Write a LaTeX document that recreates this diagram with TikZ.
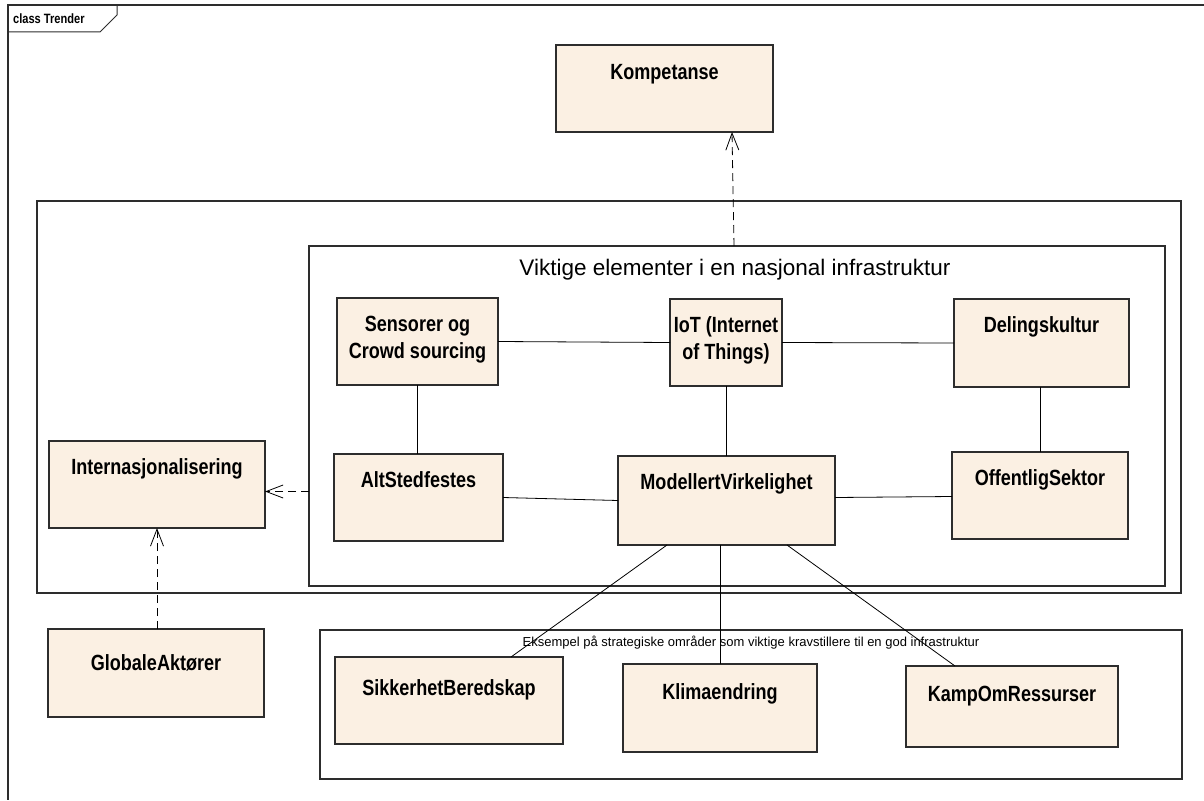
\documentclass[tikz,border=0pt]{standalone}
\usepackage{fontspec}
\setmainfont{Liberation Sans}
\newfontfamily\lblfont{Liberation Sans Bold}[FakeStretch=0.82]
\usetikzlibrary{arrows.meta,calc}
\definecolor{boxfill}{RGB}{251,240,227}
\definecolor{boxline}{RGB}{45,45,45}
\tikzset{
  cls/.style={draw=boxline, line width=1.1pt, fill=boxfill, anchor=north west, inner sep=0pt, outer sep=0pt},
  grp/.style={draw=boxline, line width=1.1pt, anchor=north west, inner sep=0pt, outer sep=0pt},
  lbl/.style={font=\lblfont\fontsize{22}{27}\selectfont, align=center, inner sep=0pt},
  conn/.style={draw=black, line width=0.8pt},
  dep/.style={draw=black, line width=0.8pt, dash pattern=on 8pt off 5pt, -{Straight Barb[length=17pt,width=13pt,line width=0.8pt]}},
}
\begin{document}
\begin{tikzpicture}[x=1pt,y=-1pt]
\useasboundingbox (0,0) rectangle (1204,800);
% frame
\draw[line width=1.2pt, boxline] (1204,5) -- (8,5) -- (8,800);
\draw[line width=1pt, boxline] (8,32) -- (100,32) -- (117,15) -- (117,5);
\node[anchor=west, inner sep=0pt, font=\lblfont\fontsize{13.5}{15}\selectfont] (frametitle) at (13,19) {class Trender};

% groups
\node[grp, minimum width=1144, minimum height=392] (outer) at (37,201) {};
\node[grp, minimum width=856, minimum height=340] (vikt) at (309,246) {};
\node[inner sep=0pt, font=\fontsize{22.5}{26}\selectfont] (viktT) at (735,270) {Viktige elementer i en nasjonal infrastruktur};
\node[grp, minimum width=862, minimum height=149] (lower) at (320,630) {};
\node[inner sep=0pt, font=\fontsize{13}{15}\selectfont] (lowerT) at (751,643) {Eksempel på strategiske områder som viktige kravstillere til en god infrastruktur};

% classes
\node[cls, minimum width=217, minimum height=87] (komp) at (556,45) {};
\node[lbl] (kompT) at (664.5,74) {Kompetanse};

\node[cls, minimum width=161, minimum height=87] (sens) at (337,298) {};
\node[lbl] (sensT) at (417.5,340) {Sensorer og\\Crowd sourcing};

\node[cls, minimum width=112, minimum height=87] (iot) at (670,299) {};
\node[lbl] (iotT) at (726,340) {IoT (Internet\\of Things)};

\node[cls, minimum width=175, minimum height=88] (del) at (954,299) {};
\node[lbl] (delT) at (1041.5,327) {Delingskultur};

\node[cls, minimum width=169, minimum height=87] (alt) at (334,454) {};
\node[lbl] (altT) at (418.5,480) {AltStedfestes};

\node[cls, minimum width=217, minimum height=89] (mod) at (618,456) {};
\node[lbl] (modT) at (726.5,484) {ModellertVirkelighet};

\node[cls, minimum width=176, minimum height=87] (off) at (952,452) {};
\node[lbl] (offT) at (1040,480) {OffentligSektor};

\node[cls, minimum width=216, minimum height=87] (intl) at (49,441) {};
\node[lbl] (intlT) at (157,469) {Internasjonalisering};

\node[cls, minimum width=216, minimum height=88] (glob) at (48,629) {};
\node[lbl] (globT) at (156,663) {GlobaleAktører};

\node[cls, minimum width=228, minimum height=87] (sik) at (335,657) {};
\node[lbl] (sikT) at (449,690) {SikkerhetBeredskap};

\node[cls, minimum width=194, minimum height=88] (klim) at (623,664) {};
\node[lbl] (klimT) at (720,694) {Klimaendring};

\node[cls, minimum width=212, minimum height=81] (kamp) at (906,666) {};
\node[lbl] (kampT) at (1012,696) {KampOmRessurser};

% solid connectors
\draw[conn] (sens.east) -- (iot.west);
\draw[conn] (iot.east) -- (del.west);
\draw[conn] (sens.south) -- (sens.south |- alt.north);
\draw[conn] (iot.south) -- (iot.south |- mod.north);
\draw[conn] (off.north |- del.south) -- (off.north);
\draw[conn] (alt.east) -- (mod.west);
\draw[conn] ($(mod.east)+(0,-3)$) -- ($(off.west)+(0,1)$);
\draw[conn] ($(mod.south west)+(49,0)$) -- ($(sik.north west)+(176,0)$);
\draw[conn] (klim.north |- mod.south) -- (klim.north);
\draw[conn] ($(mod.south west)+(169,0)$) -- ($(kamp.north west)+(49,0)$);

% dependencies
\draw[dep] ($(vikt.north west)+(425,0)$) -- ($(komp.south west)+(176,0)$);
\coordinate (intlIn) at ($(intl.east)+(0,7)$);
\draw[dep] (vikt.west |- intlIn) -- (intlIn);
\draw[dep] (intl.south |- glob.north) -- (intl.south);
\end{tikzpicture}
\end{document}
